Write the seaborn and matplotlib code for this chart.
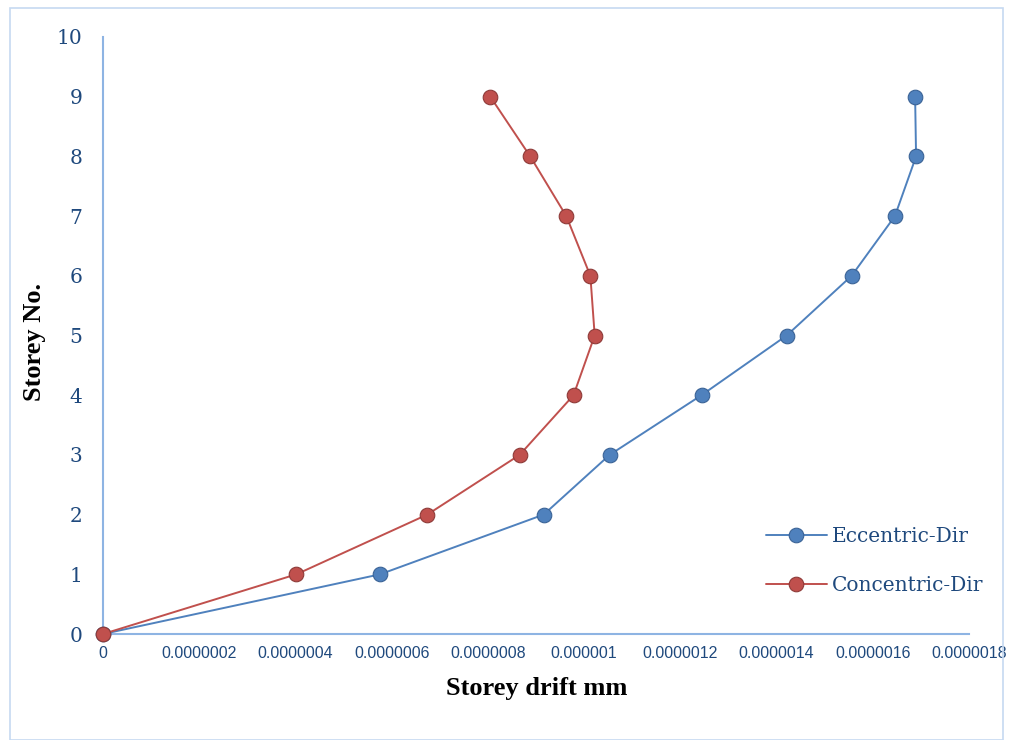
import matplotlib
matplotlib.use("Agg")
import matplotlib.pyplot as plt
import seaborn as sns
import pandas as pd
from matplotlib.patches import Rectangle

storeys = [0, 1, 2, 3, 4, 5, 6, 7, 8, 9]
eccentric = [0, 0.576e-6, 0.916e-6, 1.053e-6, 1.244e-6, 1.421e-6, 1.556e-6, 1.646e-6, 1.690e-6, 1.688e-6]
concentric = [0, 0.402e-6, 0.674e-6, 0.866e-6, 0.978e-6, 1.022e-6, 1.013e-6, 0.963e-6, 0.888e-6, 0.805e-6]
series_names = ["Eccentric-Dir", "Concentric-Dir"]
x_ticks = [0, 0.2e-6, 0.4e-6, 0.6e-6, 0.8e-6, 1.0e-6, 1.2e-6, 1.4e-6, 1.6e-6, 1.8e-6]
x_tick_labels = ["0", "0.0000002", "0.0000004", "0.0000006", "0.0000008", "0.000001",
                 "0.0000012", "0.0000014", "0.0000016", "0.0000018"]
y_ticks = list(range(0, 11))

df = pd.concat([
    pd.DataFrame({"drift": eccentric, "storey": storeys, "series": series_names[0]}),
    pd.DataFrame({"drift": concentric, "storey": storeys, "series": series_names[1]}),
], ignore_index=True)

sns.set_style("white")
fig = plt.figure(figsize=(10.14, 7.4), dpi=100)
ax = fig.add_axes([103/1014, 1-634/740, (969-103)/1014, (634-37)/740])

colors = {"Eccentric-Dir": "#4F81BD", "Concentric-Dir": "#C0504D"}
edges = {"Eccentric-Dir": "#3A6396", "Concentric-Dir": "#8E3A38"}
for name in series_names:
    sub = df[df["series"] == name]
    sns.lineplot(data=sub, x="drift", y="storey", sort=False, ax=ax, color=colors[name],
                 linewidth=1.4, marker="o", markersize=10.5, markerfacecolor=colors[name],
                 markeredgecolor=edges[name], markeredgewidth=0.8, label=name, zorder=3)

ax.set_xlim(0, 1.8e-6)
ax.set_ylim(0, 10)
ax.set_xticks(x_ticks)
ax.set_xticklabels(x_tick_labels, fontfamily="Liberation Sans", fontsize=11.5, color="#1F497D")
ax.set_yticks(y_ticks)
ax.set_yticklabels([str(v) for v in y_ticks], fontfamily="DejaVu Serif", fontsize=14.5, color="#1F497D")
ax.tick_params(axis="both", length=0)
ax.tick_params(axis="x", pad=9)
ax.tick_params(axis="y", pad=15)
for s in ["top", "right"]:
    ax.spines[s].set_visible(False)
for s in ["left", "bottom"]:
    ax.spines[s].set_color("#8EB4E3")
    ax.spines[s].set_linewidth(1.5)
ax.patch.set_alpha(0)
for ln in ax.lines:
    ln.set_clip_on(False)

ax.set_xlabel("Storey drift mm", fontfamily="Liberation Serif", fontweight="bold", fontsize=19, color="black")
ax.xaxis.set_label_coords((537-103)/866, -(688-634)/597)
ax.xaxis.label.set_va("center")
ax.set_ylabel("Storey No.", fontfamily="Liberation Serif", fontweight="bold", fontsize=19, color="black")
ax.yaxis.set_label_coords(-(103-35)/866, (634-342)/597)
ax.yaxis.label.set_va("center")

leg = ax.legend(loc="upper left", bbox_to_anchor=(748/1014, 1-509/740), bbox_transform=fig.transFigure,
                frameon=False, prop={"family": "DejaVu Serif", "size": 14.5}, labelspacing=1.5,
                handlelength=3.0, handletextpad=0.25)
for t in leg.get_texts():
    t.set_color("#1F497D")

fig.patches.append(Rectangle((10/1014, 0), (1003-10)/1014, 1-8/740, transform=fig.transFigure,
                             fill=False, edgecolor="#C6D9F1", linewidth=1.2))

fig.savefig("out.png", dpi=100)
